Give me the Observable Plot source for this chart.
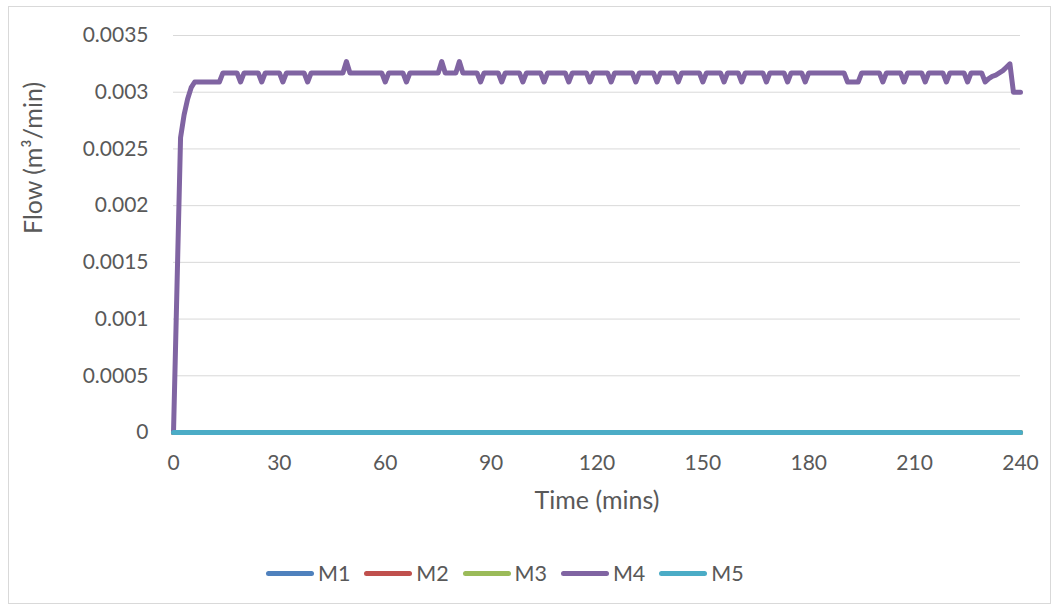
<!DOCTYPE html>
<html>
<head>
<meta charset="utf-8">
<script src="https://cdn.jsdelivr.net/npm/d3@7"></script>
<script src="https://cdn.jsdelivr.net/npm/@observablehq/plot@0.6"></script>
<style>
  html, body { margin: 0; padding: 0; background: #ffffff; }
  body { width: 1059px; height: 608px; position: relative; overflow: hidden; font-family: Lato, "Open Sans", sans-serif; }
  #frame { position: absolute; left: 8px; top: 6px; width: 1043px; height: 598px; border: 1px solid #d9d9d9; box-sizing: border-box; }
  #chart { position: absolute; left: 0; top: 0; }
  #legend { position: absolute; left: 266px; top: 561px; display: flex; font-size: 21.5px; color: #595959; line-height: 24px; }
  .item { display: flex; align-items: center; width: 98.3px; }
  .swatch { width: 48px; height: 5px; border-radius: 3px; margin-right: 4px; }
</style>
</head>
<body>
<div id="frame"></div>
<div id="chart"></div>
<div id="legend"></div>
<script>
// ---- data ----
const seriesNames = ["M1", "M2", "M3", "M4", "M5"];
const seriesColors = ["#4F81BD", "#C0504D", "#9BBB59", "#8064A2", "#4BACC6"];

// M1, M2, M3, M5: zero flow for the whole run
const zeroTime = [0, 240];
const m1Flow = [0, 0];
const m2Flow = [0, 0];
const m3Flow = [0, 0];
const m5Flow = [0, 0];

// M4: minute readings where the trace changes direction
const m4Time = [
  0, 1, 2, 3, 4, 5, 6, 13, 14,
  18, 19, 20, 24, 25, 26, 30, 31, 32, 37, 38, 39,
  48, 49, 50,
  59, 60, 61, 65, 66, 67,
  75, 76, 77, 80, 81, 82,
  86, 87, 88, 92, 93, 94, 98, 99, 100, 104, 105, 106,
  111, 112, 113, 117, 118, 119, 123, 124, 125, 130, 131, 132,
  136, 137, 138, 142, 143, 144, 149, 150, 151, 155, 156, 157,
  160, 161, 162, 167, 168, 169, 173, 174, 175, 178, 179, 180,
  190, 191, 194, 195,
  200, 201, 202, 206, 207, 208, 212, 213, 214, 218, 219, 220, 224, 225, 226,
  229, 230, 231, 232, 233, 234, 235, 236, 237, 238, 240
];
const m4Flow = [
  0, 0.0013, 0.0026, 0.0028, 0.00294, 0.00304, 0.00309, 0.00309, 0.00317,
  0.00317, 0.00309, 0.00317, 0.00317, 0.00309, 0.00317, 0.00317, 0.00309, 0.00317, 0.00317, 0.00309, 0.00317,
  0.00317, 0.00327, 0.00317,
  0.00317, 0.00309, 0.00317, 0.00317, 0.00309, 0.00317,
  0.00317, 0.00327, 0.00317, 0.00317, 0.00327, 0.00317,
  0.00317, 0.00309, 0.00317, 0.00317, 0.00309, 0.00317, 0.00317, 0.00309, 0.00317, 0.00317, 0.00309, 0.00317,
  0.00317, 0.00309, 0.00317, 0.00317, 0.00309, 0.00317, 0.00317, 0.00309, 0.00317, 0.00317, 0.00309, 0.00317,
  0.00317, 0.00309, 0.00317, 0.00317, 0.00309, 0.00317, 0.00317, 0.00309, 0.00317, 0.00317, 0.00309, 0.00317,
  0.00317, 0.00309, 0.00317, 0.00317, 0.00309, 0.00317, 0.00317, 0.00309, 0.00317, 0.00317, 0.00309, 0.00317,
  0.00317, 0.00309, 0.00309, 0.00317,
  0.00317, 0.00309, 0.00317, 0.00317, 0.00309, 0.00317, 0.00317, 0.00309, 0.00317, 0.00317, 0.00309, 0.00317, 0.00317, 0.00309, 0.00317,
  0.00317, 0.00309, 0.00312, 0.00314, 0.00315, 0.00317, 0.00319, 0.00322, 0.00325, 0.003, 0.003
];

const xTicks = [0, 30, 60, 90, 120, 150, 180, 210, 240];
const xTickLabels = ["0", "30", "60", "90", "120", "150", "180", "210", "240"];
const yTicks = [0, 0.0005, 0.001, 0.0015, 0.002, 0.0025, 0.003, 0.0035];
const yTickLabels = ["0", "0.0005", "0.001", "0.0015", "0.002", "0.0025", "0.003", "0.0035"];
const xTitle = "Time (mins)";
const yTitle = "Flow (m³/min)";

// ---- build table ----
const seriesData = {
  M1: zeroTime.map((t, i) => ({series: "M1", time: t, flow: m1Flow[i]})),
  M2: zeroTime.map((t, i) => ({series: "M2", time: t, flow: m2Flow[i]})),
  M3: zeroTime.map((t, i) => ({series: "M3", time: t, flow: m3Flow[i]})),
  M4: m4Time.map((t, i) => ({series: "M4", time: t, flow: m4Flow[i]})),
  M5: zeroTime.map((t, i) => ({series: "M5", time: t, flow: m5Flow[i]}))
};

const lineMarks = seriesNames.map(name => Plot.line(seriesData[name], {
  x: "time", y: "flow", stroke: "series",
  strokeWidth: 5, strokeLinejoin: "round", strokeLinecap: "round"
}));

const chart = Plot.plot({
  width: 1059,
  height: 530,
  marginLeft: 173,
  marginRight: 39,
  marginTop: 35,
  marginBottom: 98,
  style: { fontFamily: "Lato, 'Open Sans', sans-serif", fontSize: "21px", color: "#595959", background: "transparent", overflow: "visible" },
  x: { domain: [0, 240] },
  y: { domain: [0, 0.0035] },
  color: { domain: seriesNames, range: seriesColors },
  marks: [
    Plot.gridY(yTicks, { stroke: "#d9d9d9", strokeOpacity: 1, strokeWidth: 1 }),
    Plot.axisY({ ticks: yTicks, tickSize: 0, tickPadding: 25, label: null, fontSize: 21,
      tickFormat: d => yTickLabels[yTicks.indexOf(d)] }),
    Plot.axisX({ ticks: xTicks, tickSize: 0, tickPadding: 23, label: null, fontSize: 21,
      tickFormat: d => xTickLabels[xTicks.indexOf(d)] }),
    ...lineMarks,
    Plot.text([xTitle], { text: d => d, frameAnchor: "bottom", dy: 68, fontSize: 25, lineAnchor: "middle", fill: "#595959" }),
    Plot.text([yTitle], { text: d => d, frameAnchor: "left", dx: -140, rotate: -90, fontSize: 25, lineAnchor: "middle", fill: "#595959" })
  ]
});
document.getElementById("chart").appendChild(chart);

// ---- legend ----
const legend = document.getElementById("legend");
seriesNames.forEach((name, i) => {
  const item = document.createElement("div");
  item.className = "item";
  const sw = document.createElement("div");
  sw.className = "swatch";
  sw.style.background = seriesColors[i];
  const lab = document.createElement("span");
  lab.textContent = name;
  item.appendChild(sw);
  item.appendChild(lab);
  legend.appendChild(item);
});
</script>
</body>
</html>
